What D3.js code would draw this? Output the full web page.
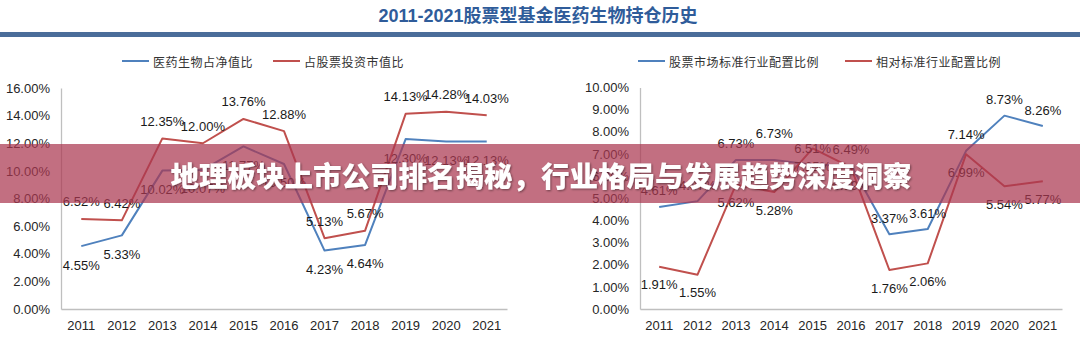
<!DOCTYPE html>
<html><head><meta charset="utf-8">
<script src="https://cdn.jsdelivr.net/npm/d3@7"></script>
<style>
html,body{margin:0;padding:0;background:#fff;}
svg{display:block;}
</style></head>
<body>
<svg id="chart" width="1080" height="348"></svg>
<script>
// ---------- data ----------
const years = ["2011","2012","2013","2014","2015","2016","2017","2018","2019","2020","2021"];
const leftBlue = [4.55, 5.33, 10.02, 10.07, 11.77, 10.50, 4.23, 4.64, 12.30, 12.13, 12.13];   // 医药生物占净值比
const leftRed  = [6.52, 6.42, 12.35, 12.00, 13.76, 12.88, 5.13, 5.67, 14.13, 14.28, 14.03];   // 占股票投资市值比
const rightBlue = [4.61, 4.87, 6.73, 6.73, 6.51, 6.49, 3.37, 3.61, 7.14, 8.73, 8.26];       // 股票市场标准行业配置比例
const rightRed  = [1.91, 1.55, 5.62, 5.28, 7.25, 6.39, 1.76, 2.06, 6.99, 5.54, 5.77];       // 相对标准行业配置比例
const leftTicks = [0, 2, 4, 6, 8, 10, 12, 14, 16];
const rightTicks = [0, 1, 2, 3, 4, 5, 6, 7, 8, 9, 10];
const leftNames = ["医药生物占净值比", "占股票投资市值比"];
const rightNames = ["股票市场标准行业配置比例", "相对标准行业配置比例"];
const titleText = "2011-2021股票型基金医药生物持仓历史";
const bannerText = "地理板块上市公司排名揭秘，行业格局与发展趋势深度洞察";

// ---------- styles ----------
const BLUE = "#4F81BD", RED = "#C0504D", AXIS = "#BFBFBF";
const NUM_FONT = "'Liberation Sans', Arial, sans-serif";
const CJK_FONT = "'Noto Sans CJK SC', 'Noto Sans', sans-serif";

const svg = d3.select("#chart");

// title
svg.append("text")
  .attr("x", 538).attr("y", 16)
  .attr("text-anchor", "middle").attr("dominant-baseline", "central")
  .attr("font-family", NUM_FONT + ", " + CJK_FONT)
  .attr("font-weight", "bold").attr("font-size", 18)
  .attr("fill", "#2F5C9A")
  .text(titleText);
svg.append("rect").attr("x", 0).attr("y", 32).attr("width", 1080).attr("height", 5).attr("fill", "#4A6D9A");

function drawChart(cfg) {
  const g = svg.append("g");
  const x = d3.scaleBand().domain(years).range([cfg.x0, cfg.x1]);
  const y = d3.scaleLinear().domain([0, cfg.max]).range([cfg.y1, cfg.y0]);

  // y axis
  const ya = g.append("g").attr("transform", `translate(${cfg.x0},0)`)
    .call(d3.axisLeft(y).tickValues(cfg.ticks).tickSize(0).tickPadding(11)
      .tickFormat(d => d.toFixed(2) + "%"));
  ya.select(".domain").attr("stroke", AXIS).attr("stroke-width", 1.3);
  ya.selectAll("text").attr("font-family", NUM_FONT).attr("font-size", 13).attr("fill", "#262626");

  // x axis
  const xa = g.append("g").attr("transform", `translate(0,${cfg.y1})`)
    .call(d3.axisBottom(x).tickSize(0).tickPadding(12));
  xa.select(".domain").attr("stroke", AXIS).attr("stroke-width", 1.3);
  xa.selectAll("text").attr("font-family", NUM_FONT).attr("font-size", 13).attr("fill", "#262626");

  const cx = d => x(d) + x.bandwidth() / 2;
  const line = d3.line().x((d, i) => cx(years[i])).y(d => y(d));

  cfg.series.forEach(s => {
    g.append("path").datum(s.values)
      .attr("fill", "none").attr("stroke", s.color).attr("stroke-width", 2)
      .attr("stroke-linejoin", "round")
      .attr("d", line);
  });
  cfg.series.forEach(s => {
    g.selectAll(null).data(s.values).enter().append("text")
      .attr("x", (d, i) => cx(years[i]))
      .attr("y", (d, i) => y(d) + s.labelDy + ((s.nudge && s.nudge[years[i]]) || 0))
      .attr("text-anchor", "middle").attr("dominant-baseline", "central")
      .attr("font-family", NUM_FONT).attr("font-size", 13).attr("fill", "#1a1a1a")
      .text(d => d.toFixed(2) + "%");
  });

  // legend
  cfg.legend.forEach(L => {
    g.append("line").attr("x1", L.x).attr("x2", L.x + 27).attr("y1", 61).attr("y2", 61)
      .attr("stroke", L.color).attr("stroke-width", 2);
    g.append("text").attr("x", L.x + 31).attr("y", 61)
      .attr("dominant-baseline", "central")
      .attr("font-family", CJK_FONT).attr("font-size", 12).attr("letter-spacing", 0.5)
      .attr("fill", "#333").text(L.name);
  });
}

drawChart({
  x0: 61, x1: 507, y0: 88, y1: 309, max: 16, ticks: leftTicks,
  series: [
    { values: leftBlue, color: BLUE, labelDy: 19 },
    { values: leftRed, color: RED, labelDy: -17 }
  ],
  legend: [
    { x: 122, color: BLUE, name: leftNames[0] },
    { x: 273, color: RED, name: leftNames[1] }
  ]
});

drawChart({
  x0: 640, x1: 1062, y0: 87.5, y1: 309, max: 10, ticks: rightTicks,
  series: [
    { values: rightBlue, color: BLUE, labelDy: -16, nudge: { "2014": -10 } },
    { values: rightRed, color: RED, labelDy: 18 }
  ],
  legend: [
    { x: 638, color: BLUE, name: rightNames[0] },
    { x: 845, color: RED, name: rightNames[1] }
  ]
});

// banner overlay
const defs = svg.append("defs");
const f = defs.append("filter").attr("id", "sh").attr("x", "-10%").attr("y", "-30%").attr("width", "120%").attr("height", "160%");
f.append("feDropShadow").attr("dx", 1).attr("dy", 1).attr("stdDeviation", 1.2)
  .attr("flood-color", "#000").attr("flood-opacity", 0.45);

svg.append("rect").attr("x", 0).attr("y", 144).attr("width", 1080).attr("height", 59)
  .attr("fill", "rgb(170,55,80)").attr("fill-opacity", 0.72);
svg.append("text")
  .attr("x", 541).attr("y", 174)
  .attr("text-anchor", "middle").attr("dominant-baseline", "central")
  .attr("font-family", CJK_FONT).attr("font-weight", 900).attr("font-size", 28.5)
  .attr("fill", "#fff").attr("filter", "url(#sh)")
  .text(bannerText);
</script>
</body></html>
